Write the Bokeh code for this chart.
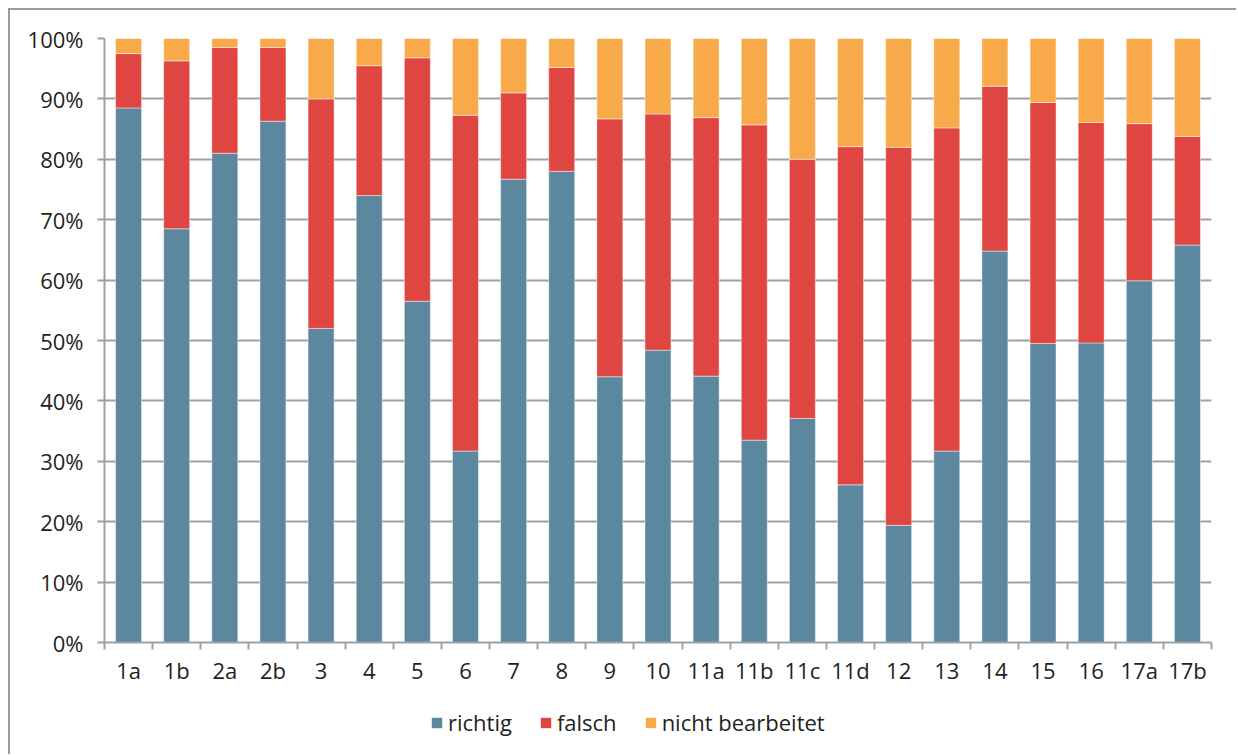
from bokeh.plotting import figure
from bokeh.layouts import column
from bokeh.models import (ColumnDataSource, Range1d, FixedTicker, PrintfTickFormatter,
                          Legend, LegendItem)
from bokeh.embed import file_html
from bokeh.resources import INLINE

categories = ["1a", "1b", "2a", "2b", "3", "4", "5", "6", "7", "8", "9", "10",
              "11a", "11b", "11c", "11d", "12", "13", "14", "15", "16", "17a", "17b"]
richtig = [88.5, 68.5, 81.0, 86.3, 52.0, 74.0, 56.5, 31.7, 76.7, 78.0, 44.0, 48.4,
           44.1, 33.5, 37.1, 26.1, 19.4, 31.7, 64.8, 49.5, 49.6, 59.9, 65.8]
falsch = [9.0, 27.8, 17.5, 12.2, 38.0, 21.5, 40.3, 55.6, 14.3, 17.2, 42.7, 39.1,
          42.8, 52.2, 42.9, 56.0, 62.6, 53.5, 27.3, 39.9, 36.5, 26.0, 18.0]
nicht_bearbeitet = [2.5, 3.7, 1.5, 1.5, 10.0, 4.5, 3.2, 12.7, 9.0, 4.8, 13.3, 12.5,
                    13.1, 14.3, 20.0, 17.9, 18.0, 14.8, 7.9, 10.6, 13.9, 14.1, 16.2]
series_names = ["richtig", "falsch", "nicht bearbeitet"]
y_ticks = [0, 10, 20, 30, 40, 50, 60, 70, 80, 90, 100]

colors = ["#5b879f", "#e04641", "#f8aa4a"]
FONT = "Open Sans"
TEXT = "#231f20"
GRAY = "#a0a0a3"

xs = list(range(len(categories)))
source = ColumnDataSource(dict(x=xs, richtig=richtig, falsch=falsch,
                               nb=nicht_bearbeitet))
stack_cols = ["richtig", "falsch", "nb"]

W = 1226
p = figure(width=W, height=690, output_backend="svg", toolbar_location=None,
           x_range=Range1d(-0.5, len(categories) - 0.5), y_range=Range1d(0, 100),
           min_border_left=94, min_border_top=28, min_border_right=25,
           min_border_bottom=58)
p.outline_line_color = None
p.background_fill_color = "white"
p.border_fill_color = "white"

rs = p.vbar_stack(stack_cols, x="x", width=0.54, source=source,
                  color=colors, line_color="white", line_alpha=0.45, line_width=1)

# axes
xa = p.xaxis[0]
xa.ticker = FixedTicker(ticks=xs, minor_ticks=[i - 0.5 for i in range(len(categories) + 1)])
xa.major_label_overrides = {i: c for i, c in enumerate(categories)}
xa.major_tick_out = 0
xa.major_tick_in = 0
xa.minor_tick_out = 7
xa.minor_tick_in = 0
xa.minor_tick_line_color = GRAY
xa.minor_tick_line_width = 2
xa.axis_line_color = GRAY
xa.axis_line_width = 2
xa.major_label_text_font = FONT
xa.major_label_text_font_size = "22px"
xa.major_label_text_color = TEXT
xa.major_label_standoff = 5

ya = p.yaxis[0]
ya.ticker = FixedTicker(ticks=y_ticks)
ya.formatter = PrintfTickFormatter(format="%d%%")
ya.major_tick_out = 7
ya.major_tick_in = 0
ya.minor_tick_out = 0
ya.minor_tick_in = 0
ya.major_tick_line_color = GRAY
ya.major_tick_line_width = 2
ya.axis_line_color = GRAY
ya.axis_line_width = 2
ya.major_label_text_font = FONT
ya.major_label_text_font_size = "22px"
ya.major_label_text_color = TEXT
ya.major_label_standoff = 14

p.xgrid.grid_line_color = None
p.ygrid.ticker = FixedTicker(ticks=y_ticks)
p.ygrid.grid_line_color = GRAY
p.ygrid.grid_line_width = 2

# legend strip below the chart (its glyphs come from the same data, hidden)
LH = 54
lf = figure(width=W, height=LH, output_backend="svg", toolbar_location=None,
            x_axis_location=None, y_axis_location=None, min_border=0,
            x_range=Range1d(-0.5, len(categories) - 0.5), y_range=Range1d(0, 100))
lf.outline_line_color = None
lf.grid.grid_line_color = None
lf.background_fill_color = "white"
lf.border_fill_color = "white"
lrs = lf.vbar_stack(stack_cols, x="x", width=0.54, source=source,
                    color=colors, line_color=None, visible=False)

legend = Legend(items=[LegendItem(label=n, renderers=[r]) for n, r in zip(series_names, lrs)],
                orientation="horizontal", location=(326, 17))
legend.glyph_width = 13
legend.glyph_height = 13
legend.label_standoff = 5
legend.spacing = 27
legend.padding = 0
legend.margin = 0
legend.border_line_color = None
legend.background_fill_alpha = 0
legend.inactive_fill_alpha = 0
legend.click_policy = "none"
legend.label_text_font = FONT
legend.label_text_font_size = "22px"
legend.label_text_color = TEXT
lf.add_layout(legend, "center")

layout = column(p, lf, spacing=0)
layout.styles = {"margin-left": "8px", "margin-top": "8px",
                 "border-top": "2px solid #9b9b9f", "border-left": "2px solid #9b9b9f"}

open("out.html", "w").write(file_html(layout, INLINE))
